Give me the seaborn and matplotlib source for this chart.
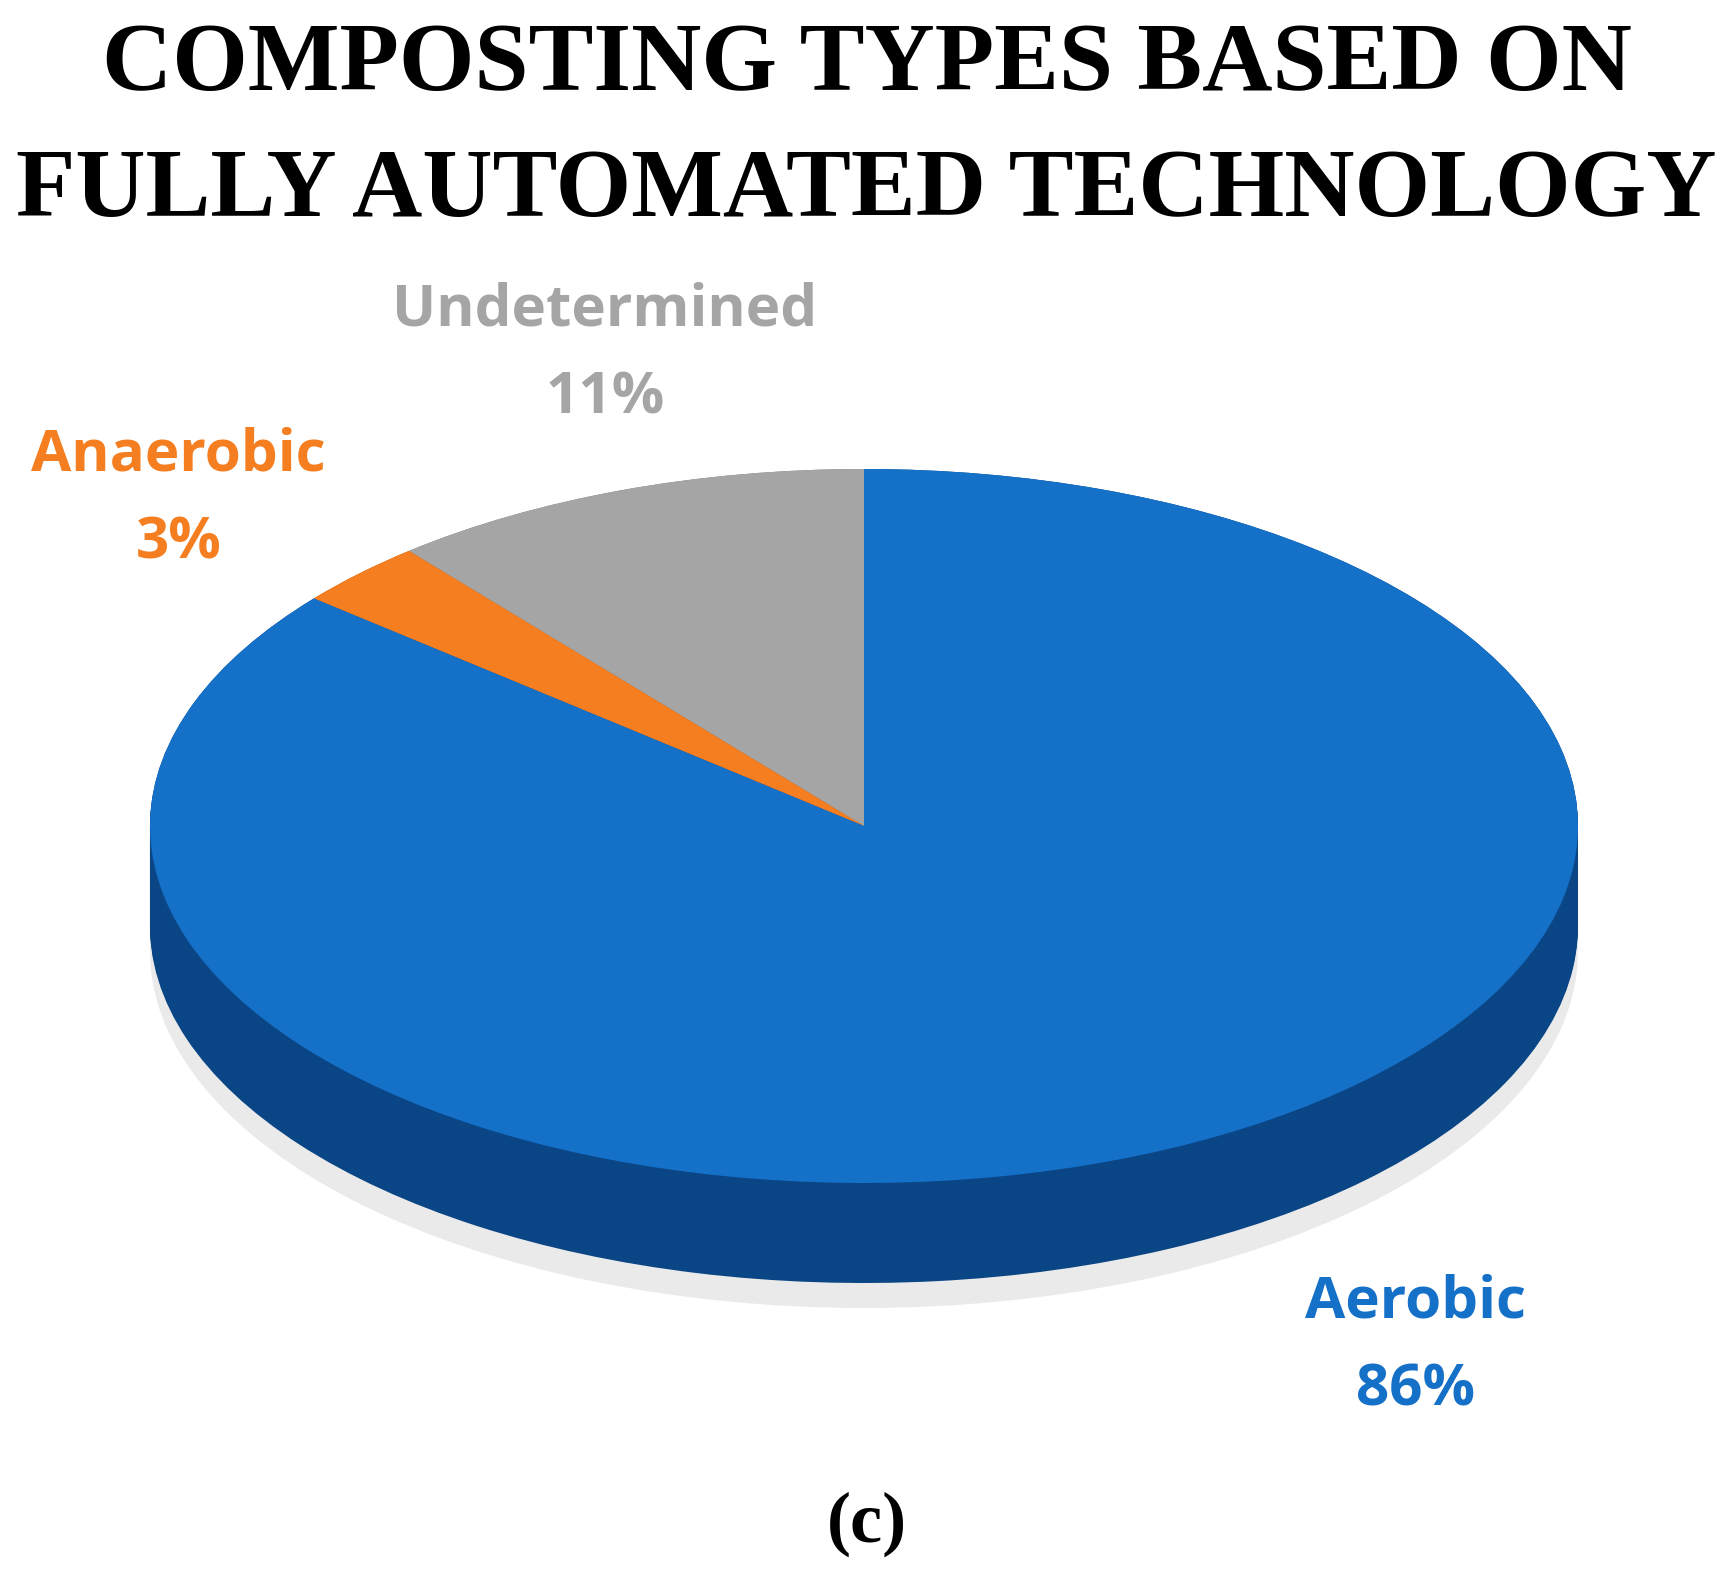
import numpy as np
import seaborn as sns
import matplotlib.pyplot as plt

sns.set_style('white')

# == Data == #
labels = ['Undetermined', 'Anaerobic', 'Aerobic']
shares = [11, 3, 86]
top_colors = ['#A5A5A5', '#F47E20', '#1570C8']
side_colors = ['#7A7A7A', '#B85A10', '#0A4585']
text_colors = ['#A5A5A5', '#F47E20', '#1570C8']

fig = plt.figure(figsize=(17.33, 15.75), dpi=100)
ax = fig.add_axes([0, 0, 1, 1])

# y units are half as tall as x units -> circles become flat ellipses
cx, cy, r, depth = 864, 1498, 714, 200

# soft shadow
ax.pie([1], colors=['#EAEAEA'], radius=r * 1.0, center=(cx, cy - depth - 50),
       wedgeprops=dict(linewidth=0))
# side of the disc
for k in np.linspace(depth, 0, 60):
    ax.pie(shares, colors=side_colors, radius=r, center=(cx, cy - k),
           startangle=90, counterclock=True, wedgeprops=dict(linewidth=0))
# top face
ax.pie(shares, colors=top_colors, radius=r, center=(cx, cy),
       startangle=90, counterclock=True, wedgeprops=dict(linewidth=0))

ax.set_xlim(0, 1733)
ax.set_ylim(0, 1575 * 2)
ax.set_aspect('auto')
ax.axis('off')

# == Labels == #
label_pos = [(0.349, 0.803), (0.103, 0.711), (0.817, 0.173)]
for lab, val, col, (x, y) in zip(labels, shares, text_colors, label_pos):
    fig.text(x, y, lab, ha='center', va='center', fontsize=42, fontweight='bold',
             color=col, family='Open Sans')
    fig.text(x, y - 0.056, f'{val}%', ha='center', va='center', fontsize=42,
             fontweight='bold', color=col, family='Open Sans')

fig.text(0.5, 0.958, 'COMPOSTING TYPES BASED ON', ha='center', va='center',
         fontsize=70, fontweight='bold', family='Liberation Serif', color='black')
fig.text(0.5, 0.878, 'FULLY AUTOMATED TECHNOLOGY', ha='center', va='center',
         fontsize=70, fontweight='bold', family='Liberation Serif', color='black')
fig.text(0.5, 0.032, '(c)', ha='center', va='center', fontsize=52,
         fontweight='bold', family='Liberation Serif', color='black')

fig.savefig('out.png', dpi=100)
